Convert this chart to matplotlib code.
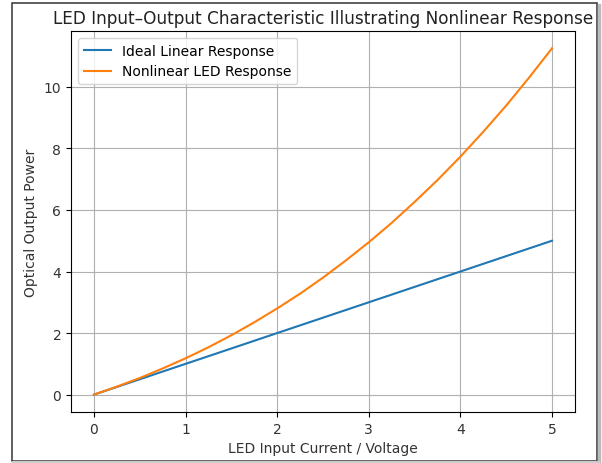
import matplotlib
matplotlib.use("Agg")
import matplotlib.pyplot as plt
from matplotlib.patches import Rectangle
from matplotlib.lines import Line2D

x_vals = [0.0, 0.25, 0.5, 0.75, 1.0, 1.25, 1.5, 1.75, 2.0, 2.25, 2.5,
          2.75, 3.0, 3.25, 3.5, 3.75, 4.0, 4.25, 4.5, 4.75, 5.0]
linear_vals = [0.0, 0.25, 0.5, 0.75, 1.0, 1.25, 1.5, 1.75, 2.0, 2.25, 2.5,
               2.75, 3.0, 3.25, 3.5, 3.75, 4.0, 4.25, 4.5, 4.75, 5.0]
nonlinear_vals = [0.0, 0.26, 0.54, 0.85, 1.18, 1.54, 1.93, 2.35, 2.80, 3.28, 3.80,
                  4.36, 4.95, 5.58, 6.26, 6.97, 7.73, 8.54, 9.39, 10.30, 11.25]
x_ticks = [0, 1, 2, 3, 4, 5]
y_ticks = [0, 2, 4, 6, 8, 10]

fig = plt.figure(figsize=(6.02, 4.64), dpi=100)
fig.subplots_adjust(left=0.118, right=0.955, top=0.931, bottom=0.110)
ax = fig.add_subplot(111)

ax.plot(x_vals, linear_vals, color="#1f77b4", label="Ideal Linear Response")
ax.plot(x_vals, nonlinear_vals, color="#ff7f0e", label="Nonlinear LED Response")
ax.set_xticks(x_ticks)
ax.set_yticks(y_ticks)
ax.tick_params(labelsize=10, labelcolor="#333333")
ax.set_xlabel("LED Input Current / Voltage", fontsize=10, color="#333333")
ax.set_ylabel("Optical Output Power", fontsize=10, color="#333333")
ax.set_title("LED Input\u2013Output Characteristic Illustrating Nonlinear Response",
             fontsize=12.2, color="#222222")
ax.grid(True)
ax.legend(loc="upper left", fontsize=10)

# screenshot frame with a soft shadow on the right/bottom
fig.add_artist(Line2D([598.5/602, 598.5/602], [1 - 6/464, 1 - 463/464],
                      transform=fig.transFigure, color="#bbbbbb", linewidth=2.5))
fig.add_artist(Line2D([13/602, 599/602], [1 - 463.2/464, 1 - 463.2/464],
                      transform=fig.transFigure, color="#cccccc", linewidth=1.5))
fig.patches.append(Rectangle((11.5/602, 1 - 461.5/464), 585/602, 457.5/464,
                             transform=fig.transFigure, fill=False,
                             edgecolor="#333333", linewidth=1.1, zorder=1))

fig.savefig("out.png", dpi=100)
